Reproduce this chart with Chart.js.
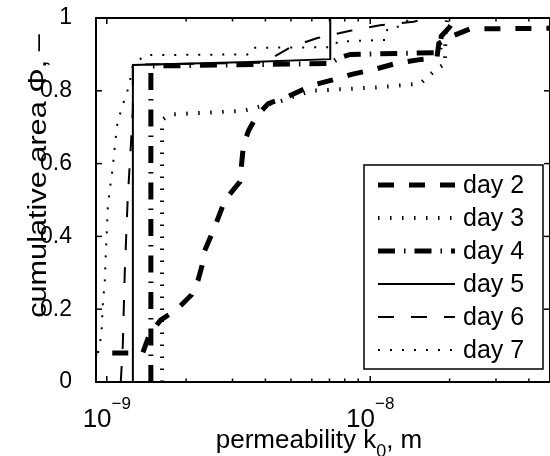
<!DOCTYPE html>
<html>
<head>
<meta charset="utf-8">
<script src="https://cdn.jsdelivr.net/npm/chart.js@4.4.0/dist/chart.umd.min.js"></script>
<style>
  html, body { margin: 0; padding: 0; background: #fff; }
</style>
</head>
<body>
<canvas id="cdfPlot" width="550" height="456"></canvas>
<script>
// permeability k0 in units of 1e-9 m, and cumulative area fraction
const UNIT = 1e-9;

const day2_k   = [0.80, 1.37, 1.45, 1.60, 1.85, 2.10, 2.22, 2.30, 2.35, 2.55, 2.81, 3.20, 3.25, 3.30, 3.45, 3.70, 4.10, 4.90, 6.00, 7.20, 8.50, 10.5, 12.5, 15.2, 17.9, 18.2, 20.1, 23.9, 50];
const day2_phi = [0.08, 0.08, 0.13, 0.17, 0.20, 0.24, 0.28, 0.32, 0.36, 0.42, 0.50, 0.55, 0.60, 0.65, 0.69, 0.73, 0.765, 0.785, 0.815, 0.83, 0.845, 0.86, 0.875, 0.885, 0.89, 0.93, 0.948, 0.97, 0.972];

const day3_k   = [1.62, 1.62, 1.74, 3.30, 4.50, 5.40, 6.00, 11.0, 15.5, 16.6, 17.9, 18.8, 19.2, 19.3, 19.6];
const day3_phi = [0, 0.72, 0.735, 0.745, 0.77, 0.79, 0.80, 0.81, 0.82, 0.84, 0.86, 0.87, 0.87, 0.96, 1.0];

const day4_k   = [1.47, 1.47, 7.05, 7.60, 8.40, 18.3, 18.6, 20.0, 21.0];
const day4_phi = [0, 0.868, 0.875, 0.89, 0.90, 0.905, 0.95, 0.975, 1.0];

const day5_k   = [1.256, 1.256, 3.5, 7.05, 7.05];
const day5_phi = [0, 0.871, 0.879, 0.887, 1.0];

const day6_k   = [1.13, 1.15, 1.17, 1.20, 1.234, 1.256, 1.256, 4.0, 4.35, 5.0, 6.3, 8.4, 10.9, 14.6, 17.0];
const day6_phi = [0, 0.1, 0.3, 0.5, 0.65, 0.75, 0.872, 0.877, 0.895, 0.92, 0.945, 0.965, 0.98, 0.99, 1.0];

const day7_k   = [0.925, 0.941, 0.957, 0.965, 0.983, 0.991, 1.0, 1.009, 1.027, 1.054, 1.073, 1.101, 1.14, 1.171, 1.212, 1.256, 1.395, 3.5, 3.6, 7.3, 7.5, 11.5, 11.6, 13.5, 14.0];
const day7_phi = [0.08, 0.10, 0.15, 0.21, 0.28, 0.35, 0.41, 0.48, 0.53, 0.59, 0.65, 0.72, 0.75, 0.78, 0.81, 0.87, 0.898, 0.90, 0.918, 0.92, 0.935, 0.94, 0.97, 0.98, 1.0];

const labels = ['day 2', 'day 3', 'day 4', 'day 5', 'day 6', 'day 7'];

// axis ticks
const xMajor = [1e-9, 1e-8];
const xMajorExp = ['\u22129', '\u22128'];
const xMinor = [2e-9, 3e-9, 4e-9, 5e-9, 6e-9, 7e-9, 8e-9, 9e-9, 2e-8, 3e-8, 4e-8];
const yTicks = [0, 0.2, 0.4, 0.6, 0.8, 1];

const FONT = '"Liberation Sans", Arial, Helvetica, sans-serif';

function pts(k, phi) {
    return k.map((v, i) => ({ x: v * UNIT, y: phi[i] }));
}

function line(ctx, x1, y1, x2, y2) {
    ctx.beginPath();
    ctx.moveTo(x1, y1);
    ctx.lineTo(x2, y2);
    ctx.stroke();
}

// box, inward ticks, x tick labels and axis titles
const framePlugin = {
    id: 'frame',
    afterDatasetsDraw(chart) {
        const { ctx, chartArea: a, scales: { x, y } } = chart;
        ctx.save();
        ctx.strokeStyle = '#000';
        ctx.fillStyle = '#000';
        ctx.lineWidth = 1.5;
        ctx.setLineDash([]);
        yTicks.forEach(v => {
            const py = y.getPixelForValue(v);
            line(ctx, a.left, py, a.left + 6, py);
            line(ctx, a.right, py, a.right - 6, py);
        });
        xMajor.forEach(v => {
            const px = x.getPixelForValue(v);
            line(ctx, px, a.bottom, px, a.bottom - 6);
            line(ctx, px, a.top, px, a.top + 6);
        });
        xMinor.forEach(v => {
            const px = x.getPixelForValue(v);
            line(ctx, px, a.bottom, px, a.bottom - 3.5);
            line(ctx, px, a.top, px, a.top + 3.5);
        });
        ctx.lineWidth = 2;
        ctx.strokeRect(a.left, a.top, a.right - a.left, a.bottom - a.top);

        // x tick labels 10^-9, 10^-8
        ctx.textBaseline = 'alphabetic';
        ctx.textAlign = 'left';
        xMajor.forEach((v, i) => {
            const px = x.getPixelForValue(v);
            ctx.font = '26px ' + FONT;
            const wBase = ctx.measureText('10').width;
            ctx.font = '17px ' + FONT;
            const wExp = ctx.measureText(xMajorExp[i]).width;
            const x0 = px - (wBase + wExp) / 2;
            ctx.font = '26px ' + FONT;
            ctx.fillText('10', x0, 427);
            ctx.font = '17px ' + FONT;
            ctx.fillText(xMajorExp[i], x0 + wBase, 409);
        });

        // x title with subscript
        const t1 = 'permeability k', t2 = '0', t3 = ', m';
        ctx.font = '26px ' + FONT;
        const w1 = ctx.measureText(t1).width, w3 = ctx.measureText(t3).width;
        ctx.font = '18px ' + FONT;
        const w2 = ctx.measureText(t2).width;
        const tx = 319 - (w1 + w2 + w3) / 2;
        ctx.font = '26px ' + FONT;
        ctx.fillText(t1, tx, 448);
        ctx.font = '18px ' + FONT;
        ctx.fillText(t2, tx + w1, 457);
        ctx.font = '26px ' + FONT;
        ctx.fillText(t3, tx + w1 + w2, 448);

        // y title (slightly stretched along its length, as in the original)
        ctx.translate(46, 176);
        ctx.rotate(-Math.PI / 2);
        ctx.scale(1.18, 1);
        ctx.textAlign = 'center';
        ctx.font = '26px ' + FONT;
        ctx.fillText('cumulative area \u03A6, \u2013', 0, 0);
        ctx.restore();
    }
};

// legend box inside the axes, bottom right
const legendPlugin = {
    id: 'boxLegend',
    afterDraw(chart) {
        const { ctx, chartArea: a } = chart;
        const left = a.right - 186, right = a.right - 7;
        const top = a.top + 147, bottom = a.top + 351;
        ctx.save();
        ctx.fillStyle = '#fff';
        ctx.fillRect(left, top, right - left, bottom - top);
        ctx.strokeStyle = '#000';
        ctx.lineWidth = 1.5;
        ctx.strokeRect(left, top, right - left, bottom - top);
        chart.data.datasets.forEach((ds, i) => {
            const cy = top + 20 + i * 33;
            ctx.lineWidth = ds.borderWidth;
            ctx.setLineDash(ds.borderDash || []);
            ctx.lineCap = 'butt';
            line(ctx, left + 14, cy, left + 91, cy);
            ctx.setLineDash([]);
            ctx.fillStyle = '#000';
            ctx.font = '25px ' + FONT;
            ctx.textBaseline = 'middle';
            ctx.fillText(ds.label, left + 99, cy + 1);
        });
        ctx.restore();
    }
};

const series = [
    { k: day2_k, phi: day2_phi, width: 5, dash: [16, 15] },
    { k: day3_k, phi: day3_phi, width: 4, dash: [1.5, 10.5] },
    { k: day4_k, phi: day4_phi, width: 5, dash: [17, 9, 1.5, 9] },
    { k: day5_k, phi: day5_phi, width: 2, dash: [] },
    { k: day6_k, phi: day6_phi, width: 2, dash: [16, 17] },
    { k: day7_k, phi: day7_phi, width: 2, dash: [2, 10] }
];

new Chart(document.getElementById('cdfPlot'), {
    type: 'line',
    data: {
        datasets: series.map((s, i) => ({
            label: labels[i],
            data: pts(s.k, s.phi),
            borderColor: '#000',
            borderWidth: s.width,
            borderDash: s.dash,
            borderCapStyle: 'butt',
            pointRadius: 0,
            tension: 0,
            fill: false,
            clip: 0
        }))
    },
    options: {
        responsive: false,
        animation: false,
        events: [],
        layout: { padding: { top: 18, right: 0, left: 0, bottom: 0 } },
        plugins: { legend: { display: false }, tooltip: { enabled: false } },
        scales: {
            x: {
                type: 'logarithmic',
                min: 9.1e-10,
                max: 4.81e-8,
                grid: { display: false },
                border: { display: false },
                ticks: { display: false },
                afterFit: s => { s.height = 74; s.paddingLeft = 0; s.paddingRight = 0; }
            },
            y: {
                type: 'linear',
                min: 0,
                max: 1,
                grid: { display: false },
                border: { display: false },
                afterBuildTicks: s => { s.ticks = yTicks.map(v => ({ value: v })); },
                ticks: {
                    color: '#000',
                    padding: 16,
                    font: { size: 23, family: FONT },
                    callback: v => String(Math.round(v * 10) / 10)
                },
                afterFit: s => { s.width = 96; s.paddingTop = 0; s.paddingBottom = 0; }
            }
        }
    },
    plugins: [framePlugin, legendPlugin]
});
</script>
</body>
</html>
